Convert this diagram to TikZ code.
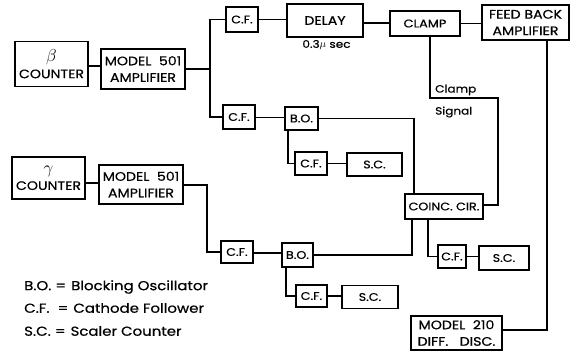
\documentclass[tikz,border=0pt]{standalone}
\usepackage{fontspec}
\setmainfont{Poppins}[FakeStretch=1.15, FakeBold=0.6]
\begin{document}
\begin{tikzpicture}[x=1pt,y=-1pt,
  blk/.style={draw, rectangle, inner sep=0pt, align=center, line width=1.5pt,
    font=\fontsize{12.3}{16.5}\selectfont},
  sm/.style={font=\fontsize{11}{12}\selectfont},
  wire/.style={line width=1.3pt},
  lbl/.style={inner sep=0pt, font=\fontsize{10.5}{12}\selectfont},
  leg/.style={inner sep=0pt, anchor=west, font=\fontsize{13}{15}\selectfont}]
\useasboundingbox (0,0) rectangle (571,351);
\fill[white] (0,0) rectangle (571,351);
% beta branch
\node[blk, minimum width=73pt, minimum height=45pt] (bc) at (51.5,64) {{\fontsize{16}{16}\selectfont$\beta$}\\COUNTER};
\node[blk, minimum width=84pt, minimum height=40pt] (amp1) at (143,69) {MODEL\ \ 501\\AMPLIFIER};
\node[blk, sm, minimum width=32pt, minimum height=25pt] (cf1) at (242,19.5) {C.F.};
\node[blk, sm, minimum width=32pt, minimum height=24pt] (cf2) at (239,117) {C.F.};
\node[blk, minimum width=76pt, minimum height=33pt] (delay) at (325,20.5) {DELAY};
\node[blk, minimum width=70pt, minimum height=25pt, font=\fontsize{11.2}{13}\selectfont] (clamp) at (425,23.5) {CLAMP};
\node[blk, minimum width=87pt, minimum height=35pt] (fba) at (525.5,22.5) {FEED BACK\\AMPLIFIER};
\node[blk, sm, minimum width=33pt, minimum height=23pt] (bo1) at (301.5,118.5) {B.O.};
\node[blk, sm, minimum width=32pt, minimum height=23pt] (cf4) at (311,163.5) {C.F.};
\node[blk, sm, minimum width=55pt, minimum height=23pt] (sc4) at (374.5,164.5) {S.C.};
\node[blk, sm, minimum width=78pt, minimum height=25pt] (coinc) at (444,206.5) {COINC.\ CIR.};
\node[blk, sm, minimum width=28pt, minimum height=23pt] (cf3) at (452,256.5) {C.F.};
\node[blk, sm, minimum width=50pt, minimum height=24pt] (sc3) at (504,258) {S.C.};
% gamma branch
\node[blk, minimum width=73pt, minimum height=42pt] (gc) at (48.5,178) {{\fontsize{16}{14}\selectfont$\gamma$}\\COUNTER};
\node[blk, minimum width=84pt, minimum height=39pt] (amp2) at (141,184.5) {MODEL\ \ 501\\AMPLIFIER};
\node[blk, sm, minimum width=32pt, minimum height=22pt] (cf6) at (237,252) {C.F.};
\node[blk, sm, minimum width=31pt, minimum height=24pt] (bo2) at (297.5,255) {B.O.};
\node[blk, sm, minimum width=31pt, minimum height=22pt] (cf5) at (311.5,296) {C.F.};
\node[blk, sm, minimum width=56pt, minimum height=23pt] (sc5) at (370,297) {S.C.};
\node[blk, minimum width=91pt, minimum height=34pt] (md) at (456.5,333) {MODEL\ \ 210\\DIFF.\ \ \ DISC.};
% labels
\node[lbl] (dl) at (326.5,45) {0.3$\mu$ sec};
\node[lbl, anchor=west] (cl1) at (435,90) {Clamp};
\node[lbl, anchor=west] (cl2) at (435,112) {Signal};
\node[leg] (l1) at (24,287) {B.O.\hspace{4pt}=\hspace{5pt}Blocking Oscillator};
\node[leg] (l2) at (24,308) {C.F.\hspace{8pt}=\hspace{5pt}Cathode Follower};
\node[leg] (l3) at (24,331) {S.C.\hspace{4pt}=\hspace{5pt}Scaler Counter};
% junctions
\coordinate (j1) at (210,69);
\coordinate (j2) at (207,185);
\coordinate (csig) at (498,98);
% wires
\draw[wire] (bc.east |- 0,66) -- (amp1.west |- 0,66);
\draw[wire] (amp1.east) -- (j1) |- (cf1.west);
\draw[wire] (j1) |- (cf2.west);
\draw[wire] (cf1.east) -- (cf1.east -| delay.west);
\draw[wire] (delay.east |- 0,23) -- (clamp.west |- 0,23);
\draw[wire] (clamp.east) -- (clamp.east -| fba.west);
\draw[wire] ([xshift=5pt]clamp.south) |- (csig) |- ([yshift=1.5pt]coinc.east);
\draw[wire] (cf2.east |- 0,117.5) -- (bo1.west |- 0,117.5);
\draw[wire] (bo1.east) -| ([xshift=-30pt]coinc.north);
\draw[wire] ([xshift=-13.5pt]bo1.south) |- (cf4.west);
\draw[wire] (cf4.east) -- (cf4.east -| sc4.west);
\draw[wire] ([xshift=-16pt]coinc.south) |- (cf3.west);
\draw[wire] (cf3.east) -- (cf3.east -| sc3.west);
\draw[wire] (amp2.east |- 0,185) -- (j2) |- (cf6.west);
\draw[wire] (cf6.east |- 0,253) -- (bo2.west |- 0,253);
\draw[wire] (bo2.east) -| ([xshift=-32pt]coinc.south);
\draw[wire] ([xshift=-11.5pt]bo2.south) |- (cf5.west);
\draw[wire] (cf5.east) -- (cf5.east -| sc5.west);
\draw[wire] (gc.east |- 0,183) -- (amp2.west |- 0,183);
\draw[wire] ([xshift=21.5pt]fba.south) |- ([yshift=3pt]md.east);
\end{tikzpicture}
\end{document}
